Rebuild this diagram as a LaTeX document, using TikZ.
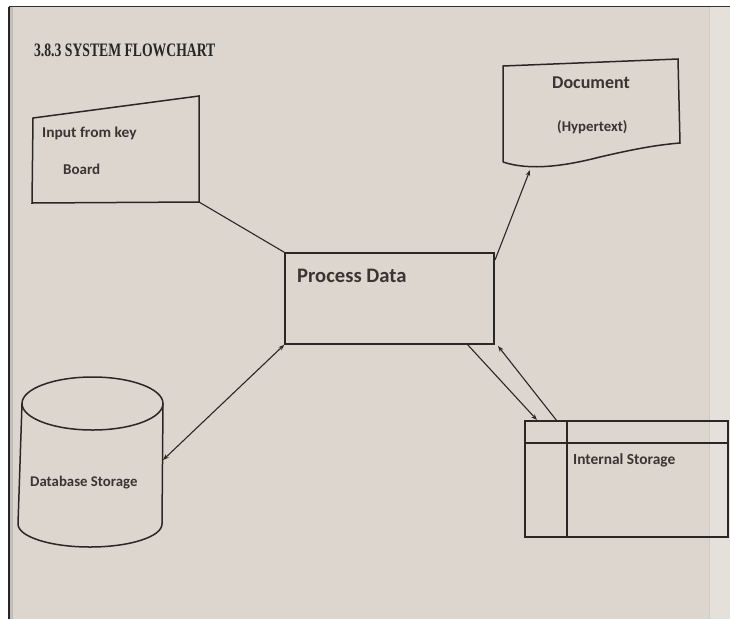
\documentclass[tikz,border=0pt]{standalone}
\usepackage{fontspec}
\setmainfont{Carlito}
\newfontfamily\titlefont{Liberation Serif}
\usetikzlibrary{arrows.meta}
\definecolor{paper}{HTML}{DDD6CE}
\definecolor{ink}{HTML}{2B2724}
\definecolor{txt}{HTML}{3A3532}
\tikzset{
  shapeline/.style={draw=ink, line width=1.5pt, line join=miter},
  conn/.style={draw=ink, line width=1.1pt},
  tip/.style={-{Stealth[length=6pt,width=4.5pt]}},
  lbl/.style={text=txt, inner sep=0pt, anchor=west, font=\bfseries\fontsize{15}{17}\selectfont},
  box/.style={shapeline, inner sep=0pt, fill=none}
}
\begin{document}
\begin{tikzpicture}[x=1pt,y=-1pt]
\useasboundingbox (0,0) rectangle (730,619);
% photo background
\fill[white] (0,0) rectangle (730,619);
\fill[paper] (9,7) rectangle (730,619);
\fill[paper!75!white] (709,7) rectangle (730,619);
\draw[black!20, line width=1pt] (709,7) -- (709,619);
\fill[black!35, opacity=0.5] (10,7) rectangle (13,619);
\draw[black!80, line width=1.4pt] (9,6.5) -- (730,6.5);
\draw[black!85, line width=1.4pt] (9,6.5) -- (9,619);

% title
\node[anchor=west, inner sep=0pt, text=black!85, xscale=0.72, font=\titlefont\bfseries\fontsize{19}{21}\selectfont] (title) at (34,50) {3.8.3 SYSTEM FLOWCHART};

% input from keyboard (manual input)
\coordinate (kbTL) at (33,118);
\coordinate (kbTR) at (199,96);
\coordinate (kbBR) at (199,202);
\coordinate (kbBL) at (32,203);
\draw[shapeline] (kbTL) -- (kbTR) -- (kbBR) -- (kbBL) -- cycle;
\node[lbl, xscale=1.03] (kb1) at (42,133) {Input from key};
\node[lbl] (kb2) at (63,169) {Board};

% process data
\node[box, minimum width=209pt, minimum height=91pt] (pd) at (389.5,298.5) {};
\node[lbl, font=\bfseries\fontsize{20.6}{23}\selectfont] (pdtext) at (297,276) {Process Data};

% document
\coordinate (docTL) at (503,66);
\coordinate (docTR) at (678,59);
\coordinate (docBR) at (680,143);
\coordinate (docBL) at (503,162);
\coordinate (docIn) at (530,170);
\draw[shapeline] (docBL) -- (docTL) -- (docTR) -- (docBR)
  .. controls (655,145) and (630,150) .. (600,157)
  .. controls (565,166) and (530,171) .. (docBL);
\node[lbl, font=\bfseries\fontsize{18}{20}\selectfont] (doc1) at (552,83) {Document};
\node[lbl, font=\bfseries\fontsize{14.8}{16}\selectfont] (doc2) at (557,127) {(Hypertext)};

% database storage (cylinder)
\draw[shapeline] (92.5,403.5) ellipse[x radius=70.5, y radius=26.5];
\draw[shapeline] (22,403.5) -- (18,524) arc[start angle=180, end angle=0, x radius=72, y radius=23] -- (163,403.5);
\coordinate (dbR) at (163,460);
\node[lbl, font=\bfseries\fontsize{14.8}{16}\selectfont] (dbtext) at (30,483) {Database Storage};

% internal storage
\node[box, minimum width=203pt, minimum height=116pt] (ist) at (626.5,479) {};
\draw[shapeline] (ist.west |- 0,443) -- (ist.east |- 0,443);
\draw[shapeline] (567,421) -- (567,537);
\node[lbl, font=\bfseries\fontsize{15.4}{17}\selectfont] (isttext) at (573,460) {Internal Storage};

% connectors
\coordinate (pdTR) at (495,260);
\coordinate (pdB1) at (467,344);
\coordinate (pdB2) at (498,346);
\coordinate (istT1) at (537,420);
\coordinate (istT2) at (557,421);
\draw[conn] (kbBR) -- (pd.north west);
\draw[conn, tip] (pdTR) -- (docIn);
\draw[conn, {Stealth[length=6pt,width=4.5pt]}-{Stealth[length=6pt,width=4.5pt]}] (dbR) -- (pd.south west);
\draw[conn, tip] (pdB1) -- (istT1);
\draw[conn, tip] (istT2) -- (pdB2);
\end{tikzpicture}
\end{document}
